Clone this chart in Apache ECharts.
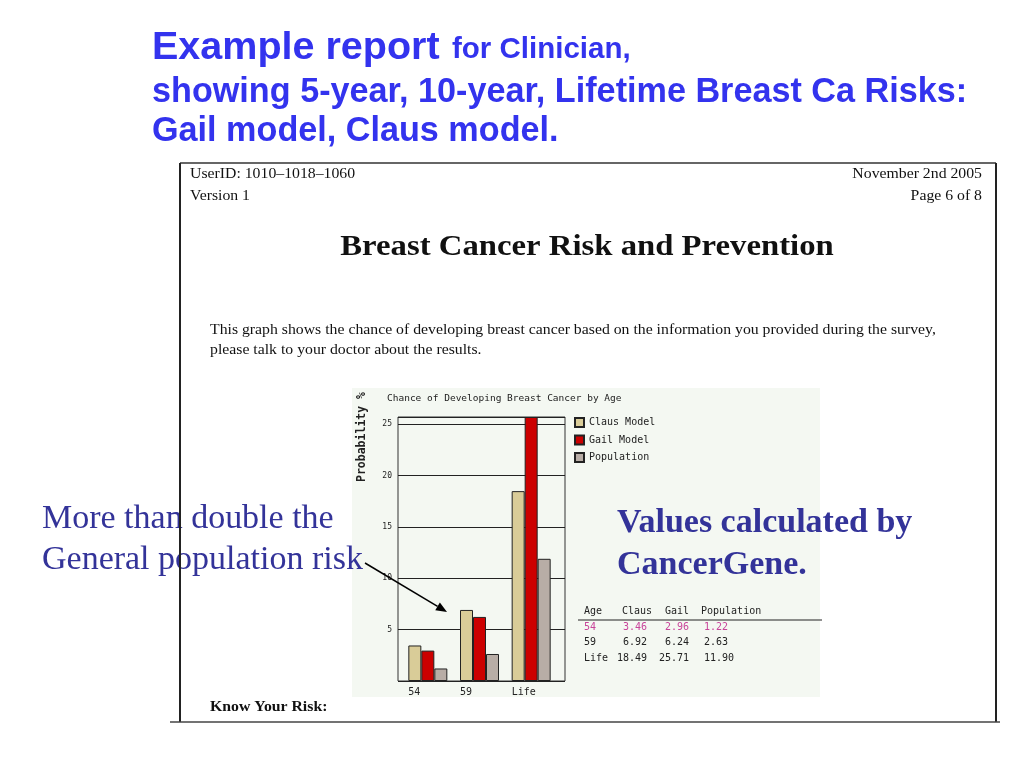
<!DOCTYPE html>
<html>
<head>
<meta charset="utf-8">
<script src="https://cdn.jsdelivr.net/npm/echarts@6/dist/echarts.min.js"></script>
<style>
html,body{margin:0;padding:0;background:#fff;}
#main{width:1024px;height:768px;}
</style>
</head>
<body>
<div id="main"></div>
<script>
const categories = ['54', '59', 'Life'];
const seriesNames = ['Claus Model', 'Gail Model', 'Population'];
const claus = [3.46, 6.92, 18.49];
const gail = [2.96, 6.24, 25.71];
const population = [1.22, 2.63, 11.90];
const tableHeader = ['Age', 'Claus', 'Gail', 'Population'];
const yMax = 25.71;
const yInterval = 5;

const MONO = '"DejaVu Sans Mono", "Liberation Mono", monospace';
const SERIF = '"Liberation Serif", "DejaVu Serif", serif';
const SANS = '"Liberation Sans", Arial, sans-serif';
const colors = ['#d9cc98', '#cc0000', '#b8ada6'];

const chart = echarts.init(document.getElementById('main'), null, {renderer: 'canvas'});

function txt(text, x, y, font, fill, align, z, sx) {
  return {type: 'text', z: z || 10, x: x, y: y, scaleX: sx || 1,
    style: {text: text, x: 0, y: 0, font: font, fill: fill,
      textAlign: align || 'left', textVerticalAlign: 'middle'}};
}

// table rows built from the data arrays
const tableRows = [];
const headX = [584, 622, 665, 701];
tableHeader.forEach((h, i) => tableRows.push(txt(h, headX[i], 611, '10px ' + MONO, '#222', 'left', 20)));
const rowY = [627, 642, 658];
const rowColors = ['#c8449a', '#222', '#222'];
categories.forEach((c, r) => {
  tableRows.push(txt(c, 584, rowY[r], '10px ' + MONO, rowColors[r], 'left', 20));
  tableRows.push(txt(claus[r].toFixed(2), 647, rowY[r], '10px ' + MONO, rowColors[r], 'right', 20));
  tableRows.push(txt(gail[r].toFixed(2), 689, rowY[r], '10px ' + MONO, rowColors[r], 'right', 20));
  tableRows.push(txt(population[r].toFixed(2), 704, rowY[r], '10px ' + MONO, rowColors[r], 'left', 20));
});

const ax = 447, ay = 612, sx = 365, sy = 563;
const dx = ax - sx, dy = ay - sy, len = Math.sqrt(dx * dx + dy * dy);
const ux = dx / len, uy = dy / len;
const bx = ax - 11 * ux, by = ay - 11 * uy;

const DOC = 1.16;
const option = {
  animation: false,
  backgroundColor: '#ffffff',
  title: {
    text: 'Chance of Developing Breast Cancer by Age',
    left: 387, top: 394, padding: 0,
    textStyle: {fontFamily: MONO, fontSize: 9.5, fontWeight: 'normal', color: '#222'}
  },
  legend: {
    data: seriesNames,
    orient: 'vertical', left: 574, top: 417, padding: 0,
    itemWidth: 9, itemHeight: 9, itemGap: 6.5, icon: 'rect',
    textStyle: {fontFamily: MONO, fontSize: 10, color: '#222'}
  },
  grid: [
    {left: 398, top: 417, width: 167, height: 264, show: true, borderColor: '#333', borderWidth: 1, backgroundColor: 'transparent'},
    {left: 402, top: 417, width: 155, height: 264},
    {left: 382.5, top: 417, width: 155, height: 264}
  ],
  xAxis: [
    {gridIndex: 0, type: 'category', data: categories, show: false},
    {gridIndex: 1, type: 'category', data: categories, show: false},
    {gridIndex: 2, type: 'category', data: categories,
      axisLine: {show: false}, axisTick: {show: false},
      axisLabel: {align: 'left', margin: 6, fontFamily: MONO, fontSize: 10, color: '#222'}}
  ],
  yAxis: [
    {gridIndex: 0, type: 'value', min: 0, max: yMax, interval: yInterval,
      axisLine: {show: false}, axisTick: {show: false},
      splitLine: {show: true, lineStyle: {color: '#222', width: 1}},
      axisLabel: {showMinLabel: false, showMaxLabel: false, margin: 6, fontFamily: MONO, fontSize: 8, color: '#222',
        padding: [10, 0, 0, 0],
        formatter: v => (v % yInterval === 0 ? String(v) : '')}},
    {gridIndex: 1, type: 'value', min: 0, max: yMax, show: false, splitLine: {show: false}},
    {gridIndex: 2, type: 'value', min: 0, max: yMax, show: false, splitLine: {show: false}}
  ],
  series: [
    {name: seriesNames[0], type: 'bar', xAxisIndex: 1, yAxisIndex: 1, data: claus, barWidth: 13, barGap: '0%',
      itemStyle: {color: colors[0], borderColor: '#222', borderWidth: 1}},
    {name: seriesNames[1], type: 'bar', xAxisIndex: 1, yAxisIndex: 1, data: gail, barWidth: 13, barGap: '0%',
      itemStyle: {color: colors[1], borderColor: '#222', borderWidth: 1}},
    {name: seriesNames[2], type: 'bar', xAxisIndex: 1, yAxisIndex: 1, data: population, barWidth: 13, barGap: '0%',
      itemStyle: {color: colors[2], borderColor: '#222', borderWidth: 1}}
  ],
  graphic: [
    {type: 'rect', z: -10, shape: {x: 352, y: 388, width: 468, height: 309}, style: {fill: '#f4f8f2'}},
    // headline
    txt('Example report', 152, 48, 'bold 39.5px ' + SANS, '#3333ee'),
    txt('for Clinician,', 452, 50, 'bold 29.5px ' + SANS, '#3333ee'),
    txt('showing 5-year, 10-year, Lifetime Breast Ca Risks:', 152, 93, 'bold 34.2px ' + SANS, '#3333ee'),
    txt('Gail model, Claus model.', 152, 132, 'bold 34.2px ' + SANS, '#3333ee'),
    // document
    txt('UserID: 1010\u20131018\u20131060', 190, 174, '13.6px ' + SERIF, '#111', 'left', 10, DOC),
    txt('Version 1', 190, 196, '13.6px ' + SERIF, '#111', 'left', 10, DOC),
    txt('November 2nd 2005', 982, 174, '13.6px ' + SERIF, '#111', 'right', 10, DOC),
    txt('Page 6 of 8', 982, 196, '13.6px ' + SERIF, '#111', 'right', 10, DOC),
    txt('Breast Cancer Risk and Prevention', 587, 248, 'bold 28.6px ' + SERIF, '#111', 'center', 10, 1.145),
    txt('This graph shows the chance of developing breast cancer based on the information you provided during the survey,', 210, 330, '13.6px ' + SERIF, '#111', 'left', 10, DOC),
    txt('please talk to your doctor about the results.', 210, 350, '13.6px ' + SERIF, '#111', 'left', 10, DOC),
    txt('Know Your Risk:', 210, 707, 'bold 13.6px ' + SERIF, '#111', 'left', 10, DOC),
    // rotated axis name
    {type: 'text', z: 20, x: 362, y: 437, rotation: Math.PI / 2,
      style: {text: 'Probability %', font: 'bold 11.5px ' + MONO, fill: '#222', textAlign: 'center', textVerticalAlign: 'middle'}},
    // table
    {type: 'line', z: 20, shape: {x1: 578, y1: 620, x2: 822, y2: 620}, style: {stroke: '#222', lineWidth: 1}},
    ...tableRows,
    // annotations
    txt('More than double the', 42, 519, '33px ' + SERIF, '#333399', 'left', 30, 1.03),
    txt('General population risk', 42, 560, '33px ' + SERIF, '#333399', 'left', 30, 1.03),
    txt('Values calculated by', 617, 523, 'bold 34px ' + SERIF, '#333399', 'left', 30),
    txt('CancerGene.', 617, 565, 'bold 34px ' + SERIF, '#333399', 'left', 30),
    {type: 'line', z: 40, shape: {x1: sx, y1: sy, x2: bx, y2: by}, style: {stroke: '#000', lineWidth: 1.5}},
    {type: 'polygon', z: 40, shape: {points: [[ax, ay], [bx - 4.5 * uy, by + 4.5 * ux], [bx + 4.5 * uy, by - 4.5 * ux]]}, style: {fill: '#000'}},
    // document frame lines (on top of annotation text)
    {type: 'line', z: 50, shape: {x1: 180, y1: 163, x2: 996, y2: 163}, style: {stroke: '#333', lineWidth: 1.5}},
    {type: 'line', z: 50, shape: {x1: 180, y1: 163, x2: 180, y2: 722}, style: {stroke: '#222', lineWidth: 2}},
    {type: 'line', z: 50, shape: {x1: 996, y1: 163, x2: 996, y2: 722}, style: {stroke: '#222', lineWidth: 2}},
    {type: 'line', z: 50, shape: {x1: 170, y1: 722, x2: 1000, y2: 722}, style: {stroke: '#444', lineWidth: 1.5}}
  ]
};
chart.setOption(option);
</script>
</body>
</html>
